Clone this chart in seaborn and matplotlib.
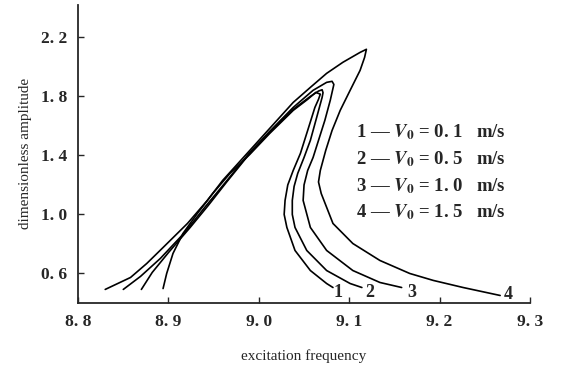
import numpy as np
import pandas as pd
import matplotlib
matplotlib.use("Agg")
import matplotlib.pyplot as plt
import seaborn as sns

# ---------------------------------------------------
# Frequency response curves
# (rising branch -> peak -> lower branch)
# ---------------------------------------------------
freq_1 = [8.894, 8.898, 8.905, 8.916, 8.932, 8.949, 8.968, 8.990, 9.012, 9.038,
          9.054, 9.063, 9.068, 9.066, 9.062, 9.054, 9.046, 9.038, 9.032, 9.029,
          9.028, 9.031, 9.040, 9.057, 9.075, 9.082]
amp_1 = [0.498, 0.600, 0.736, 0.871, 1.007, 1.142, 1.278, 1.407, 1.549, 1.705,
         1.780, 1.827, 1.815, 1.780, 1.725, 1.569, 1.414, 1.298, 1.200, 1.095,
         1.000, 0.912, 0.756, 0.620, 0.532, 0.505]

freq_2 = [8.870, 8.882, 8.900, 8.924, 8.944, 8.964, 8.990, 9.012, 9.038, 9.057,
          9.066, 9.070, 9.071, 9.070, 9.064, 9.057, 9.050, 9.043, 9.039, 9.037,
          9.037, 9.040, 9.053, 9.075, 9.101, 9.114]
amp_2 = [0.492, 0.607, 0.742, 0.912, 1.061, 1.217, 1.414, 1.556, 1.712, 1.800,
         1.836, 1.845, 1.825, 1.793, 1.658, 1.502, 1.386, 1.278, 1.190, 1.095,
         1.000, 0.912, 0.756, 0.620, 0.532, 0.505]

freq_3 = [8.850, 8.869, 8.891, 8.918, 8.940, 8.963, 8.990, 9.012, 9.038, 9.060,
          9.075, 9.081, 9.083, 9.079, 9.073, 9.066, 9.060, 9.054, 9.050, 9.049,
          9.057, 9.075, 9.104, 9.134, 9.158]
amp_3 = [0.492, 0.580, 0.702, 0.878, 1.047, 1.217, 1.420, 1.563, 1.725, 1.841,
         1.895, 1.902, 1.881, 1.773, 1.637, 1.502, 1.386, 1.298, 1.200, 1.095,
         0.912, 0.756, 0.620, 0.539, 0.505]

freq_4 = [8.830, 8.858, 8.876, 8.894, 8.921, 8.943, 8.960, 8.990, 9.012, 9.038,
          9.057, 9.075, 9.093, 9.112, 9.119, 9.117, 9.112, 9.101, 9.090, 9.081,
          9.074, 9.068, 9.066, 9.069, 9.082, 9.104, 9.134, 9.167, 9.193, 9.226,
          9.267]
amp_4 = [0.492, 0.573, 0.668, 0.776, 0.939, 1.095, 1.231, 1.434, 1.583, 1.759,
         1.861, 1.956, 2.031, 2.098, 2.119, 2.064, 1.976, 1.841, 1.705, 1.569,
         1.434, 1.298, 1.220, 1.142, 0.939, 0.803, 0.688, 0.600, 0.553, 0.505,
         0.451]

curve_ids = ["1", "2", "3", "4"]
legend_text = [r"1 — $\mathbfit{V}_{\mathbf{0}}$ = 0. 1   m/s",
               r"2 — $\mathbfit{V}_{\mathbf{0}}$ = 0. 5   m/s",
               r"3 — $\mathbfit{V}_{\mathbf{0}}$ = 1. 0   m/s",
               r"4 — $\mathbfit{V}_{\mathbf{0}}$ = 1. 5   m/s"]
xticks = [8.8, 8.9, 9.0, 9.1, 9.2, 9.3]
yticks = [0.6, 1.0, 1.4, 1.8, 2.2]

frames = []
for cid, fx, fy in zip(curve_ids, [freq_1, freq_2, freq_3, freq_4],
                       [amp_1, amp_2, amp_3, amp_4]):
    d = pd.DataFrame({"freq": fx, "amp": fy})
    d["curve"] = cid
    frames.append(d)
df = pd.concat(frames, ignore_index=True)

# ---------------------------------------------------
# Plot
# ---------------------------------------------------
sns.set_style("ticks")
plt.rcParams["font.family"] = ["Liberation Serif", "DejaVu Serif"]
plt.rcParams["mathtext.fontset"] = "stix"

fig = plt.figure(figsize=(5.62, 3.75), dpi=100)
ax = fig.add_axes([0.139, 0.192, 0.804, 0.795])

for cid in curve_ids:
    sub = df[df["curve"] == cid]
    sns.lineplot(data=sub, x="freq", y="amp", sort=False, estimator=None,
                 color="black", linewidth=1.2, ax=ax)

# curve numbers at the ends of the lower branches
ends = [(9.088, 0.471), (9.123, 0.471), (9.169, 0.471), (9.276, 0.458)]
for cid, (ex, ey) in zip(curve_ids, ends):
    ax.text(ex, ey, cid, fontsize=13, fontweight="bold", ha="center", va="center")

for i, txt in enumerate(legend_text):
    ax.text(9.108, 1.556 - i * 0.181, txt, fontsize=13.5, fontweight="bold",
            ha="left", va="center")

ax.set_xlim(8.8, 9.3)
ax.set_ylim(0.4, 2.42)
ax.set_xticks(xticks)
ax.set_xticklabels([f"{v:.1f}".replace(".", ". ") for v in xticks],
                   fontsize=12.5, fontweight="bold")
ax.set_yticks(yticks)
ax.set_yticklabels([f"{v:.1f}".replace(".", ". ") for v in yticks],
                   fontsize=12.5, fontweight="bold")
ax.tick_params(direction="in", length=4, width=1, pad=8)
ax.set_xlabel("excitation frequency", fontsize=11, labelpad=14)
ax.set_ylabel("dimensionless amplitude", fontsize=11, labelpad=6)
sns.despine(ax=ax)
for s in ["left", "bottom"]:
    ax.spines[s].set_linewidth(1.3)

fig.savefig("out.png", dpi=100)
